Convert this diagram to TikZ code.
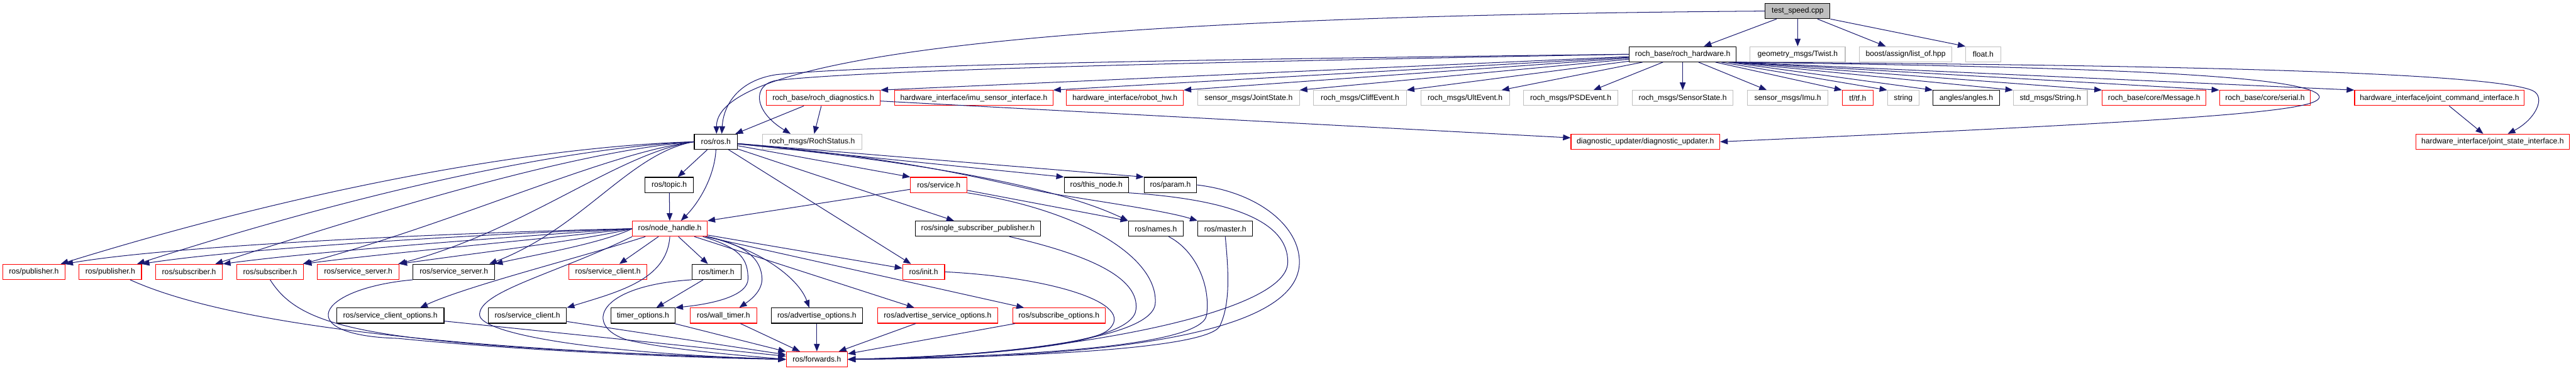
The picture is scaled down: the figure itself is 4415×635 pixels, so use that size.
\documentclass[tikz,border=0pt]{standalone}
\usepackage{fontspec}
\setmainfont{Liberation Sans}
\usetikzlibrary{arrows.meta}
\definecolor{edgec}{HTML}{191970}
\definecolor{greyb}{HTML}{BFBFBF}
\begin{document}
\begin{tikzpicture}[x=1pt,y=-1pt,
  nb/.style={draw, fill=white, line width=1.2pt, minimum height=26pt, inner sep=0pt, font=\fontsize{13.1}{15}\selectfont},
  rb/.style={nb, draw=red},
  gb/.style={nb, draw=greyb},
  kb/.style={nb, draw=black},
  dep/.style={draw=edgec, line width=1.1pt, -{Triangle[length=13pt,width=10pt]}}]
\useasboundingbox (0,0) rectangle (4415,635);
% row 0
\node[nb, draw=black, fill=greyb, minimum width=111pt] (ts) at (3081,19) {test\_speed.cpp};
% row 1
\node[kb, minimum width=183pt] (rh) at (2884,93) {roch\_base/roch\_hardware.h};
\node[gb, minimum width=163pt] (tw) at (3081,93) {geometry\_msgs/Twist.h};
\node[gb, minimum width=159pt] (bl) at (3266,93) {boost/assign/list\_of.hpp};
\node[gb, minimum width=60pt] (fl) at (3399,93) {float.h};
% row 2
\node[rb, minimum width=195pt] (rd) at (1411,168) {roch\_base/roch\_diagnostics.h};
\node[rb, minimum width=271pt] (imu) at (1669,168) {hardware\_interface/imu\_sensor\_interface.h};
\node[rb, minimum width=200pt] (rhw) at (1928,168) {hardware\_interface/robot\_hw.h};
\node[gb, minimum width=174pt] (js) at (2140,168) {sensor\_msgs/JointState.h};
\node[gb, minimum width=159pt] (ce) at (2331,168) {roch\_msgs/CliffEvent.h};
\node[gb, minimum width=152pt] (ue) at (2511,168) {roch\_msgs/UltEvent.h};
\node[gb, minimum width=162pt] (pe) at (2692,168) {roch\_msgs/PSDEvent.h};
\node[gb, minimum width=173pt] (ss) at (2884,168) {roch\_msgs/SensorState.h};
\node[gb, minimum width=138pt] (im) at (3064,168) {sensor\_msgs/Imu.h};
\node[rb, minimum width=53pt] (tf) at (3184,168) {tf/tf.h};
\node[gb, minimum width=54pt] (st) at (3262,168) {string};
\node[kb, minimum width=114pt] (an) at (3370,168) {angles/angles.h};
\node[gb, minimum width=127pt] (sm) at (3514,168) {std\_msgs/String.h};
\node[rb, minimum width=178pt] (msg) at (3692,168) {roch\_base/core/Message.h};
\node[rb, minimum width=156pt] (ser) at (3882,168) {roch\_base/core/serial.h};
\node[rb, minimum width=291pt] (jci) at (4181,168) {hardware\_interface/joint\_command\_interface.h};
% row 3
\node[kb, minimum width=74pt] (ros) at (1227,243) {ros/ros.h};
\node[gb, minimum width=171pt] (rs) at (1392,243) {roch\_msgs/RochStatus.h};
\node[rb, minimum width=255pt] (du) at (2820,243) {diagnostic\_updater/diagnostic\_updater.h};
\node[rb, minimum width=263pt] (jsi) at (4272,243) {hardware\_interface/joint\_state\_interface.h};
% row 4
\node[kb, minimum width=83pt] (topic) at (1147,317) {ros/topic.h};
\node[rb, minimum width=97pt] (srv) at (1609,317) {ros/service.h};
\node[kb, minimum width=110pt] (tn) at (1879,317) {ros/this\_node.h};
\node[kb, minimum width=90pt] (par) at (2006,317) {ros/param.h};
% row 5
\node[rb, minimum width=128pt] (nh) at (1148,392) {ros/node\_handle.h};
\node[kb, minimum width=214pt] (ssp) at (1676,392) {ros/single\_subscriber\_publisher.h};
\node[kb, minimum width=94pt] (nm) at (1981,392) {ros/names.h};
\node[kb, minimum width=94pt] (ms) at (2100,392) {ros/master.h};
% row 6
\node[rb, minimum width=107pt] (pub1) at (58,466) {ros/publisher.h};
\node[rb, minimum width=107pt] (pub2) at (189,466) {ros/publisher.h};
\node[rb, minimum width=115pt] (sub1) at (324,466) {ros/subscriber.h};
\node[rb, minimum width=115pt] (sub2) at (463,466) {ros/subscriber.h};
\node[rb, minimum width=140pt] (sv1) at (614,466) {ros/service\_server.h};
\node[kb, minimum width=140pt] (sv2) at (778,466) {ros/service\_server.h};
\node[rb, minimum width=134pt] (sc1) at (1042,466) {ros/service\_client.h};
\node[kb, minimum width=84pt] (tm) at (1228,466) {ros/timer.h};
\node[rb, minimum width=72pt] (ini) at (1583,466) {ros/init.h};
% row 7
\node[kb, minimum width=184pt] (sco) at (669,541) {ros/service\_client\_options.h};
\node[kb, minimum width=134pt] (sc2) at (904,541) {ros/service\_client.h};
\node[kb, minimum width=110pt] (tmo) at (1102,541) {timer\_options.h};
\node[rb, minimum width=114pt] (wt) at (1240,541) {ros/wall\_timer.h};
\node[kb, minimum width=156pt] (ao) at (1400,541) {ros/advertise\_options.h};
\node[rb, minimum width=206pt] (aso) at (1607,541) {ros/advertise\_service\_options.h};
\node[rb, minimum width=159pt] (so) at (1815,541) {ros/subscribe\_options.h};
% row 8
\node[rb, minimum width=105pt] (fw) at (1400,616) {ros/forwards.h};

% --- edges from test_speed.cpp
\draw[dep] (ts.west) .. controls (2200,25) and (1228,60) .. ([xshift=1pt]ros.north);
\draw[dep] (ts) -- (rh);
\draw[dep] (ts) -- (tw);
\draw[dep] (ts) -- (bl);
\draw[dep] (ts.south east) -- (fl.north west);
% --- edges from roch_hardware.h
\draw[dep] (rh) -- (rd.north east);
\draw[dep] (rh) -- (imu.north east);
\draw[dep] (rh) -- (rhw.north east);
\draw[dep] (rh) -- (js.north east);
\draw[dep] (rh) -- (ce.north east);
\draw[dep] (rh) -- ([xshift=-14pt]ue.north east);
\draw[dep] (rh) -- ([xshift=39pt]pe.north);
\draw[dep] (rh) -- (ss);
\draw[dep] ([xshift=27pt]rh.south) -- ([xshift=-36pt]im.north);
\draw[dep] ([xshift=56pt]rh.south) -- (tf.north west);
\draw[dep] ([xshift=66pt]rh.south) -- (st.north west);
\draw[dep] ([xshift=-14pt]rh.south east) -- (an.north west);
\draw[dep] ([xshift=-10pt]rh.south east) -- (sm.north west);
\draw[dep] ([xshift=-6pt]rh.south east) -- (msg.north west);
\draw[dep] ([xshift=-3pt]rh.south east) -- (ser.north west);
\draw[dep] (rh.south east) -- (jci.north west);
\draw[dep] (rh.west) .. controls (2200,100) and (1500,110) .. (1330,128) .. controls (1265,138) and (1240,180) .. ([xshift=10pt]ros.north);
\draw[dep] (rh.west) .. controls (2200,104) and (1500,118) .. (1330,138) .. controls (1290,145) and (1290,190) .. ([xshift=-37pt]rs.north);
\draw[dep] (rh.south east) .. controls (3500,110) and (4250,118) .. (4340,155) .. controls (4365,166) and (4345,205) .. ([xshift=26pt]jsi.north);
\draw[dep] (rh.south east) .. controls (3500,114) and (3960,125) .. (3975,165) .. controls (3980,190) and (3800,205) .. (du.east);
% --- roch_diagnostics.h
\draw[dep] (rd) -- (ros);
\draw[dep] (rd) -- (rs);
\draw[dep] (rd) -- (du);
\draw[dep] (jci) -- ([xshift=-16pt]jsi.north);
% --- ros/ros.h
\draw[dep] (ros) -- (topic);
\draw[dep] (ros.south) .. controls (1225,300) and (1200,345) .. ([xshift=19pt]nh.north);
\draw[dep] (ros) -- (srv.north west);
\draw[dep] (ros) -- (tn.north west);
\draw[dep] (ros) -- (par.north west);
\draw[dep] (ros) -- (ini);
\draw[dep] (ros) -- (ssp);
\draw[dep] (ros) .. controls (1550,275) and (1800,315) .. (nm.north west);
\draw[dep] (ros) .. controls (1600,275) and (1720,318) .. (1810,333) .. controls (1900,348) and (2000,362) .. (ms.north west);
\draw[dep] (ros.west) .. controls (900,252) and (500,330) .. ([xshift=46pt]pub1.north);
\draw[dep] (ros.west) .. controls (950,255) and (600,335) .. ([xshift=46pt]pub2.north);
\draw[dep] (ros.west) .. controls (1000,258) and (700,345) .. ([xshift=45pt]sub1.north);
\draw[dep] (ros.west) .. controls (1040,262) and (800,375) .. ([xshift=-2pt]sub2.north east);
\draw[dep] (ros.west) .. controls (1060,262) and (900,395) .. ([xshift=-2pt]sv1.north east);
\draw[dep] (ros.west) .. controls (1080,262) and (1000,390) .. ([xshift=-10pt]sv2.north east);
% --- topic, service
\draw[dep] (topic) -- (nh);
\draw[dep] (srv) -- (nh.north east);
\draw[dep] (srv) -- (nm.north west);
% --- node_handle.h
\draw[dep] (nh.west) .. controls (800,398) and (300,420) .. (pub1.north east);
\draw[dep] (nh.west) .. controls (850,400) and (420,425) .. (pub2.north east);
\draw[dep] (nh.west) .. controls (900,404) and (550,430) .. (sub1.north east);
\draw[dep] (nh.west) .. controls (950,408) and (650,435) .. (sub2.north east);
\draw[dep] (nh.west) .. controls (1000,412) and (800,436) .. (sv1.north east);
\draw[dep] (nh.west) .. controls (1030,418) and (900,440) .. (sv2.north east);
\draw[dep] (nh) -- (sc1);
\draw[dep] (nh) .. controls (1000,440) and (800,490) .. ([xshift=51pt]sco.north);
\draw[dep] (nh.south) .. controls (1143,480) and (1060,500) .. (sc2.north east);
\draw[dep] (nh.south west) .. controls (950,470) and (820,500) .. (822,540) .. controls (824,570) and (1000,605) .. (fw.west);
\draw[dep] (nh) -- (tm);
\draw[dep] ([xshift=-8pt]nh.south east) .. controls (1270,425) and (1282,445) .. (1282,478) .. controls (1282,505) and (1230,520) .. (tmo.north east);
\draw[dep] (nh.south east) .. controls (1280,420) and (1305,445) .. (1306,478) .. controls (1306,500) and (1285,515) .. ([xshift=27pt]wt.north);
\draw[dep] (nh.south east) .. controls (1310,430) and (1370,480) .. ([xshift=-13pt]ao.north);
\draw[dep] (nh) -- ([xshift=-40pt]aso.north);
\draw[dep] (nh) -- ([xshift=-60pt]so.north);
\draw[dep] (nh) -- (ini);
% --- timer
\draw[dep] (tm) -- (tmo);
\draw[dep] (tm.south west) .. controls (1020,490) and (1000,560) .. (1076,583) .. controls (1150,600) and (1280,610) .. (fw.west);
% --- into forwards.h
\draw[dep] ([xshift=34pt]pub2.south) .. controls (400,560) and (800,600) .. (fw.west);
\draw[dep] (sub2.south) .. controls (520,570) and (650,592) .. (fw.west);
\draw[dep] (sv2.south west) .. controls (540,495) and (500,575) .. (682,580) .. controls (900,602) and (1200,614) .. (fw.west);
\draw[dep] (sco) -- (fw);
\draw[dep] (sc2) -- (fw);
\draw[dep] (tmo) -- (fw);
\draw[dep] (wt) -- (fw);
\draw[dep] (ao) -- (fw);
\draw[dep] (aso) -- (fw);
\draw[dep] (so) -- (fw);
\draw[dep] (ini.east) .. controls (1800,475) and (1950,520) .. (1900,565) .. controls (1860,600) and (1600,612) .. (fw.east);
\draw[dep] (srv.south east) .. controls (1850,360) and (1985,440) .. (1980,520) .. controls (1975,590) and (1650,612) .. (fw.east);
\draw[dep] ([xshift=54pt]ssp.south) .. controls (1880,440) and (1952,480) .. (1947,530) .. controls (1942,595) and (1650,612) .. (fw.east);
\draw[dep] ([xshift=22pt]nm.south) .. controls (2050,430) and (2075,490) .. (2068,540) .. controls (2060,598) and (1700,612) .. (fw.east);
\draw[dep] (ms.south) .. controls (2105,460) and (2110,520) .. (2090,560) .. controls (2060,602) and (1700,613) .. (fw.east);
\draw[dep] (tn.south east) .. controls (2160,345) and (2208,400) .. (2207,450) .. controls (2206,540) and (1800,612) .. (fw.east);
\draw[dep] (par.east) .. controls (2160,330) and (2228,390) .. (2227,450) .. controls (2226,590) and (1800,614) .. (fw.east);
\end{tikzpicture}
\end{document}
